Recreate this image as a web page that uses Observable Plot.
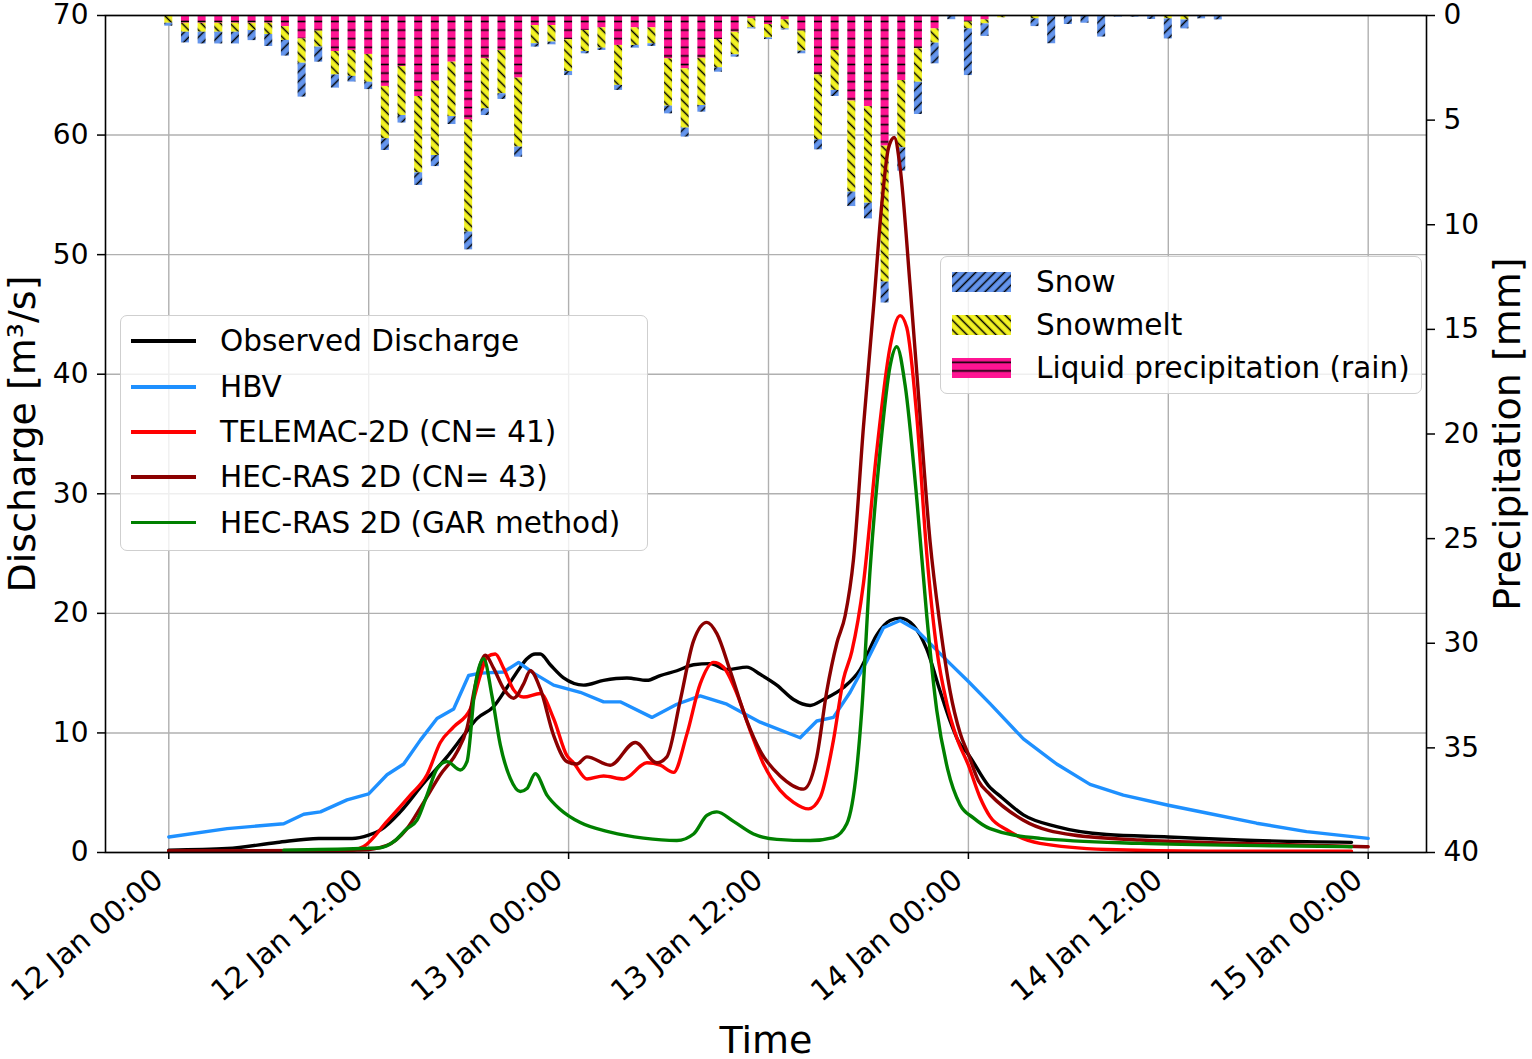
<!DOCTYPE html>
<html>
<head>
<meta charset="utf-8">
<script src="https://cdn.jsdelivr.net/npm/d3@7"></script>
<script src="https://cdn.jsdelivr.net/npm/@observablehq/plot@0.6"></script>
<style>
  html, body { margin: 0; padding: 0; background: #fff; }
  #wrap { position: relative; width: 1532px; height: 1059px; font-family: "DejaVu Sans", sans-serif; }
  .legend { position: absolute; background: rgba(255,255,255,0.8); border: 1.5px solid #cfcfcf; border-radius: 7px; box-sizing: border-box; }
  .row { position: absolute; left: 0; height: 34px; display: flex; align-items: center; }
  .row span { position: absolute; white-space: nowrap; font-size: 29.5px; line-height: 34px; color: #000; }
</style>
</head>
<body>
<svg width="0" height="0" style="position:absolute">
  <defs>
    <pattern id="hatchSnow" patternUnits="userSpaceOnUse" width="6.8" height="6.8" patternTransform="rotate(45)">
      <rect width="6.8" height="6.8" fill="#6495ED"></rect>
      <line x1="3.4" y1="-1" x2="3.4" y2="8" stroke="#000" stroke-width="1.5"></line>
    </pattern>
    <pattern id="hatchMelt" patternUnits="userSpaceOnUse" width="6.8" height="6.8" patternTransform="rotate(-45)">
      <rect width="6.8" height="6.8" fill="#f2f224"></rect>
      <line x1="3.4" y1="-1" x2="3.4" y2="8" stroke="#000" stroke-width="1.5"></line>
    </pattern>
    <pattern id="hatchRain" patternUnits="userSpaceOnUse" width="8.6" height="8.6">
      <rect width="8.6" height="8.6" fill="#ff1493"></rect>
      <line x1="-1" y1="4.3" x2="10" y2="4.3" stroke="#000" stroke-width="1.6"></line>
    </pattern>
  </defs>
</svg>
<div id="wrap"></div>
<script>
// ---------- tick labels ----------
const xTicks = [0, 12, 24, 36, 48, 60, 72];
const xTickLabels = ["12 Jan 00:00", "12 Jan 12:00", "13 Jan 00:00", "13 Jan 12:00", "14 Jan 00:00", "14 Jan 12:00", "15 Jan 00:00"];
const qTicks = [0, 10, 20, 30, 40, 50, 60, 70];
const pTicks = [0, 5, 10, 15, 20, 25, 30, 35, 40];

// ---------- hourly precipitation [mm], hours 0..63 after 12 Jan 00:00 ----------
const precipHours = [0,1,2,3,4,5,6,7,8,9,10,11,12,13,14,15,16,17,18,19,20,21,22,23,24,25,26,27,28,29,30,31,32,33,34,35,36,37,38,39,40,41,42,43,44,45,46,47,48,49,50,51,52,53,54,55,56,57,58,59,60,61,62,63];
const rain = [0,0.37,0.37,0.37,0.37,0.37,0.37,0.53, 1.12,0.75,1.72,1.67,1.86,3.39,2.44,3.87, 3.14,2.23,4.99,2.07,1.67,2.99,0.48,0.48, 1.16,0.72,0.59,1.43,0.59,0.59,2.07,2.55, 2.04,1.15,0.80,0.16,0.43,0.21,0.75,2.84, 1.67,4.09,4.35,6.24,3.11,1.59,0.64,0, 0.32,0.21,0,0,0,0,0,0, 0,0,0,0,0,0,0,0];
const snowmelt = [0.37,0.43,0.43,0.43,0.43,0.35,0.54,0.66, 1.16,0.76,1.12,1.24,1.33,2.50,2.34,3.65, 3.55,2.60,5.36,2.39,2.07,3.30,0.87,0.79, 1.52,1.00,0.97,1.91,0.84,0.76,2.26,2.83, 2.26,1.35,1.08,0.43,0.64,0.43,0.95,3.10, 1.91,4.35,4.62,6.50,3.21,1.60,0.68,0.05, 0.32,0.19,0.11,0,0.16,0.05,0,0, 0,0.05,0.05,0.05,0.16,0.21,0,0];
const snow = [0.14,0.51,0.56,0.56,0.56,0.48,0.57,0.75, 1.62,0.72,0.63,0.27,0.35,0.56,0.36,0.60, 0.53,0.38,0.85,0.32,0.27,0.48,0.16,0.13, 0.19,0.11,0.11,0.24,0.13,0.13,0.37,0.43, 0.32,0.21,0.11,0.05,0.08,0.05,0.13,0.48, 0.29,0.69,0.75,1.00,1.12,1.54,0.99,0.15, 2.23,0.60,0,0,0.37,1.30,0.43,0.37, 1.03,0.03,0.03,0.14,0.96,0.43,0.16,0.21];

// ---------- discharge series [m3/s]; hours after 12 Jan 00:00 ----------
const obsHours = [0,3.5,6.5,9,11,12,12.7,13.9,15.3,16.7,17.7,18.5,19.5,20.3,21.1,21.5,22,22.3,22.9,23.7,24.9,26.1,27.5,28.7,29.5,30.5,31.5,32.5,33.5,34.7,35.5,36.5,37.5,38.5,39.3,40.5,41.5,42.5,43.3,43.9,44.7,45.5,46.3,46.9,47.4,48,49.2,50,51.3,53.3,56.3,60,64.3,71];
const obsQ = [0.2,0.33,0.84,1.17,1.17,1.45,1.87,3.4,5.8,8.0,9.8,11.2,12.2,13.8,15.5,16.2,16.6,16.6,15.7,14.6,14.0,14.4,14.6,14.4,14.8,15.2,15.7,15.8,15.3,15.5,14.9,14.0,12.8,12.3,12.8,13.8,15.3,18.2,19.4,19.6,19.0,17.0,13.5,11.0,9.3,8.2,5.6,4.6,3.15,2.17,1.5,1.3,1.04,0.85];

const hbvHours = [0,3.5,6.9,8.1,9.1,10.7,12,13.1,14.1,15.1,16.1,17.1,18.0,18.7,20.1,21.0,21.9,23.1,24.7,26.1,27.1,29,30.5,31.9,33.5,35.5,37.9,38.9,39.9,40.9,41.9,42.9,43.9,44.9,45.9,46.9,48,49.3,51.3,53.3,55.3,57.3,60,62.3,65.3,68.3,72];
const hbvQ = [1.3,2.0,2.4,3.2,3.4,4.4,4.9,6.5,7.4,9.4,11.2,12.0,14.8,15.0,15.1,15.9,15.0,14.0,13.4,12.6,12.6,11.3,12.4,13.1,12.4,10.9,9.6,11.0,11.3,13.4,16.0,18.8,19.4,18.6,17.2,15.8,14.3,12.45,9.5,7.4,5.7,4.8,3.95,3.3,2.45,1.75,1.18];

const telHours = [0,11,11.7,13.1,14.5,15.5,16.3,17.1,18.1,18.7,19.1,19.6,20.1,20.7,21.3,22.3,23.1,23.9,24.3,25.1,26.1,27.3,28.7,29.5,30.3,31.1,31.9,32.7,33.3,34.1,34.9,35.7,36.7,37.5,38.4,39.1,39.9,40.5,41.0,41.7,42.5,43.3,43.9,44.3,44.9,45.5,46.1,46.7,47.3,48,48.7,49.3,50.3,52.3,56.3,62.3,71];
const telQ = [0.1,0.2,0.5,2.6,4.8,6.5,9.2,10.5,12.0,14.8,16.35,16.6,15.4,13.6,13.0,13.3,11.2,8.1,7.5,6.15,6.4,6.15,7.5,7.3,6.7,9.9,14.1,15.9,15.5,13.3,10.2,7.4,5.2,4.2,3.65,4.6,9.4,14.5,16.8,22.5,33.6,42.3,44.9,43.9,36.5,25.0,17.0,12.5,9.6,7.3,4.6,3.0,1.9,0.76,0.25,0.1,0.1];

const hecCnHours = [0,11.5,13.1,14.3,15.3,16.3,17.3,17.9,18.4,19.0,19.5,20.1,20.7,21.3,21.7,22.3,23.1,23.9,24.5,25.1,26.5,28,29.3,29.9,30.7,31.5,32.3,32.9,33.7,34.7,35.5,36.7,38.1,38.9,39.5,40.1,40.6,41.1,41.7,42.3,42.8,43.2,43.55,43.9,44.5,45.1,45.7,46.3,46.9,47.5,48,48.6,49.3,51.3,54.3,58.3,64.3,72];
const hecCnQ = [0.1,0.2,0.6,2.0,4.2,6.5,8.4,10.4,14.0,16.5,15.4,13.7,12.9,14.1,15.2,13.7,9.8,7.6,7.4,8.0,7.3,9.2,7.5,8.0,12.7,17.7,19.25,18.3,15.2,11.0,8.5,6.4,5.3,8.0,13.5,17.5,19.8,24.5,35.6,45.5,54.2,58.9,59.8,57.3,47.4,36.5,26.0,19.0,13.5,10.0,8.2,6.0,4.85,2.7,1.46,1.04,0.76,0.48];

const garHours = [6.9,11.5,12.7,13.5,14.3,14.9,15.5,16.1,16.7,17.5,17.9,18.4,18.9,19.4,19.9,20.5,21.1,21.5,22.0,22.7,23.5,24.7,26.5,28.5,30.5,31.5,32.3,32.9,33.9,35.1,36.5,38.5,39.9,40.7,41.3,41.6,42.1,42.7,43.3,43.7,44.2,44.9,45.5,46.1,46.75,47.5,48.3,49.3,52.3,58.3,66.3,71];
const garQ = [0.2,0.33,0.4,0.9,2.0,2.7,4.8,7.0,7.6,6.9,7.6,14.0,16.2,13.1,9.0,6.2,5.1,5.35,6.6,4.8,3.6,2.5,1.7,1.2,1.0,1.55,3.1,3.4,2.6,1.55,1.1,1.0,1.25,2.4,7.0,11.9,23.7,33.6,40.7,42.3,39.1,29.6,19.8,11.9,7.0,4.0,2.9,2.0,1.18,0.76,0.56,0.48];

const seriesNames = ["Observed Discharge", "HBV", "TELEMAC-2D (CN= 41)", "HEC-RAS 2D (CN= 43)", "HEC-RAS 2D (GAR method)"];
const seriesColors = ["#000000", "#1e90ff", "#ff0000", "#8b0000", "#008000"];
const precipNames = ["Snow", "Snowmelt", "Liquid precipitation (rain)"];
const precipFills = ["url(#hatchSnow)", "url(#hatchMelt)", "url(#hatchRain)"];

// ---------- build ----------
const Q_MAX = 70, P_MAX = 40;
const toY = mm => Q_MAX - mm * Q_MAX / P_MAX;   // precipitation (inverted, right axis) in discharge units

const rainBars = [], meltBars = [], snowBars = [];
precipHours.forEach((h, i) => {
  const a = rain[i], b = a + snowmelt[i], c = b + snow[i];
  if (rain[i] > 0) rainBars.push({h, y1: toY(0), y2: toY(a)});
  if (snowmelt[i] > 0) meltBars.push({h, y1: toY(a), y2: toY(b)});
  if (snow[i] > 0) snowBars.push({h, y1: toY(b), y2: toY(c)});
});
const barOpts = fill => ({x1: d => d.h - 0.24, x2: d => d.h + 0.24, y1: "y1", y2: "y2", fill});

const series = [
  [obsHours, obsQ, "monotone-x"],
  [hbvHours, hbvQ, "linear"],
  [telHours, telQ, "monotone-x"],
  [hecCnHours, hecCnQ, "monotone-x"],
  [garHours, garQ, "monotone-x"]
].map(([hs, qs, curve], i) => ({data: hs.map((h, j) => ({h, q: qs[j]})), curve, color: seriesColors[i]}));

const chart = Plot.plot({
  width: 1532,
  height: 1059,
  marginTop: 15,
  marginRight: 106,
  marginBottom: 207,
  marginLeft: 105,
  style: {fontFamily: '"DejaVu Sans", sans-serif', fontSize: "28px", color: "black", background: "white", overflow: "visible"},
  x: {type: "linear", domain: [-3.8, 75.5]},
  y: {domain: [0, Q_MAX]},
  marks: [
    Plot.gridX({ticks: xTicks, stroke: "#b0b0b0", strokeOpacity: 1, strokeWidth: 1.4}),
    Plot.gridY({ticks: qTicks, stroke: "#b0b0b0", strokeOpacity: 1, strokeWidth: 1.4}),
    Plot.rect(rainBars, barOpts(precipFills[2])),
    Plot.rect(meltBars, barOpts(precipFills[1])),
    Plot.rect(snowBars, barOpts(precipFills[0])),
    ...series.map(s => Plot.line(s.data, {x: "h", y: "q", stroke: s.color, strokeWidth: 3.4, curve: s.curve, strokeLinejoin: "round"})),
    Plot.frame({stroke: "black", strokeWidth: 1.6}),
    // x axis ticks + rotated labels
    Plot.axisX({ticks: xTicks, tickSize: 7, tickFormat: () => "", stroke: "black", strokeWidth: 1.5, label: null}),
    Plot.axisX({ticks: xTicks, tickSize: 0, tickPadding: 23, tickFormat: d => xTickLabels[xTicks.indexOf(d)],
      tickRotate: -40, textAnchor: "end", lineAnchor: "middle", dx: -10, fontSize: 29.5, fill: "black", label: null}),
    // left discharge axis
    Plot.axisY({ticks: qTicks, tickSize: 8, tickPadding: 9, fontSize: 28, stroke: "black", strokeWidth: 1.5, fill: "black", label: null}),
    // right precipitation axis (inverted)
    Plot.axisY({anchor: "right", ticks: pTicks.map(toY), tickFormat: d => String(Math.round((Q_MAX - d) * P_MAX / Q_MAX)),
      tickSize: 8, tickPadding: 9, fontSize: 28, stroke: "black", strokeWidth: 1.5, fill: "black", label: null}),
    // axis titles
    Plot.text(["Discharge [m³/s]"], {text: d => d, frameAnchor: "left", textAnchor: "middle", lineAnchor: "middle", rotate: -90, dx: -83, fontSize: 38, fill: "black"}),
    Plot.text(["Precipitation [mm]"], {text: d => d, frameAnchor: "right", textAnchor: "middle", lineAnchor: "middle", rotate: -90, dx: 81, fontSize: 38, fill: "black"}),
    Plot.text(["Time"], {text: d => d, frameAnchor: "bottom", textAnchor: "middle", lineAnchor: "middle", dy: 188, fontSize: 38, fill: "black"})
  ]
});

const wrap = document.getElementById("wrap");
wrap.appendChild(chart);

// ---------- legends ----------
const leg1 = document.createElement("div");
leg1.className = "legend";
Object.assign(leg1.style, {left: "120px", top: "315px", width: "528px", height: "236px"});
const rows1 = [25, 71, 116, 161, 206.5];
seriesNames.forEach((name, i) => {
  const row = document.createElement("div");
  row.className = "row";
  row.style.top = (rows1[i] - 17) + "px";
  row.style.width = "100%";
  const ln = document.createElement("div");
  Object.assign(ln.style, {position: "absolute", left: "10px", width: "65px", height: "3.6px", top: "15.2px", background: seriesColors[i]});
  const tx = document.createElement("span");
  tx.textContent = name;
  tx.style.left = "99px";
  tx.style.top = "0px";
  row.appendChild(ln); row.appendChild(tx);
  leg1.appendChild(row);
});
wrap.appendChild(leg1);

const leg2 = document.createElement("div");
leg2.className = "legend";
Object.assign(leg2.style, {left: "940px", top: "256px", width: "482px", height: "138px"});
const rows2 = [24.5, 67.5, 111];
precipNames.forEach((name, i) => {
  const row = document.createElement("div");
  row.className = "row";
  row.style.top = (rows2[i] - 17) + "px";
  row.style.width = "100%";
  const ns = "http://www.w3.org/2000/svg";
  const sv = document.createElementNS(ns, "svg");
  sv.setAttribute("width", "59"); sv.setAttribute("height", "20");
  Object.assign(sv.style, {position: "absolute", left: "11px", top: "7px"});
  const r = document.createElementNS(ns, "rect");
  r.setAttribute("width", "59"); r.setAttribute("height", "20");
  r.setAttribute("fill", precipFills[i]);
  sv.appendChild(r);
  const tx = document.createElement("span");
  tx.textContent = name;
  tx.style.left = "95px";
  tx.style.top = "0px";
  row.appendChild(sv); row.appendChild(tx);
  leg2.appendChild(row);
});
wrap.appendChild(leg2);
</script>
</body>
</html>
